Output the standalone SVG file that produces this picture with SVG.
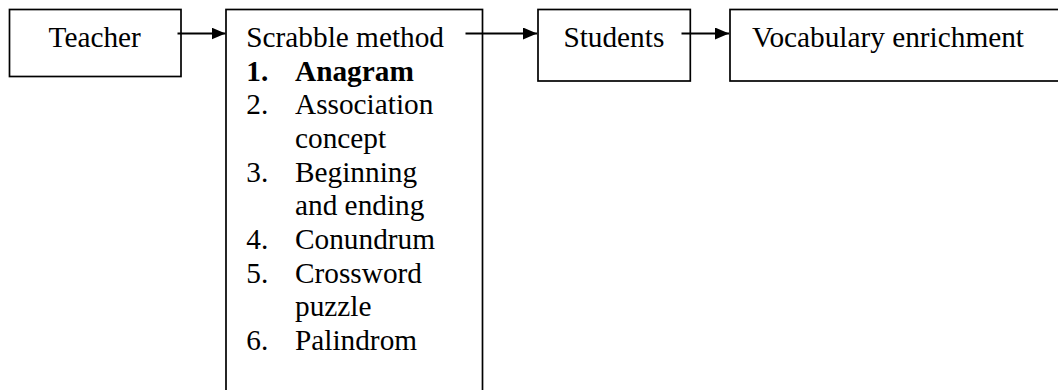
<svg xmlns="http://www.w3.org/2000/svg" width="1058" height="390" viewBox="0 0 1058 390">
<style>
.box{fill:#fff;stroke:#000;stroke-width:1.7}
.t{font-family:"Liberation Serif","Times New Roman",serif;font-size:29.3px;fill:#000}
.b{font-weight:bold}
.c{stroke:#000;stroke-width:2.2;fill:none}
</style>
<defs>
<marker id="ah" markerWidth="14" markerHeight="12" refX="14" refY="6" orient="auto" markerUnits="userSpaceOnUse">
<path d="M0,0 L14,6 L0,12 Z" fill="#000"/>
</marker>
</defs>
<g id="teacher">
<rect class="box" x="9.5" y="9.5" width="171.5" height="67"/>
<text class="t" x="48.6" y="46.7">Teacher</text>
</g>
<g id="scrabble">
<rect class="box" x="226" y="9.5" width="256.5" height="390"/>
<text class="t" x="246.3" y="46.7">Scrabble method</text>
<text class="t b" x="246.3" y="81">1.</text><text class="t b" x="295" y="81">Anagram</text>
<text class="t" x="246.3" y="114.4">2.</text><text class="t" x="295" y="114.4">Association</text>
<text class="t" x="295" y="148">concept</text>
<text class="t" x="246.3" y="181.7">3.</text><text class="t" x="295" y="181.7">Beginning</text>
<text class="t" x="295" y="215.3">and ending</text>
<text class="t" x="246.3" y="249">4.</text><text class="t" x="295" y="249">Conundrum</text>
<text class="t" x="246.3" y="282.7">5.</text><text class="t" x="295" y="282.7">Crossword</text>
<text class="t" x="295" y="316.3">puzzle</text>
<text class="t" x="246.3" y="350">6.</text><text class="t" x="295" y="350">Palindrom</text>
</g>
<g id="students">
<rect class="box" x="538" y="9.5" width="152.3" height="71.5"/>
<text class="t" x="563.4" y="46.7">Students</text>
</g>
<g id="vocabulary">
<rect class="box" x="730" y="9.5" width="340" height="71.5"/>
<text class="t" x="752" y="46.7">Vocabulary enrichment</text>
</g>
<g id="connectors">
<line class="c" x1="177.5" y1="33.5" x2="225.5" y2="33.5" marker-end="url(#ah)"/>
<line class="c" x1="465.5" y1="33.5" x2="537" y2="33.5" marker-end="url(#ah)"/>
<line class="c" x1="681.5" y1="33.5" x2="729" y2="33.5" marker-end="url(#ah)"/>
</g>
</svg>
